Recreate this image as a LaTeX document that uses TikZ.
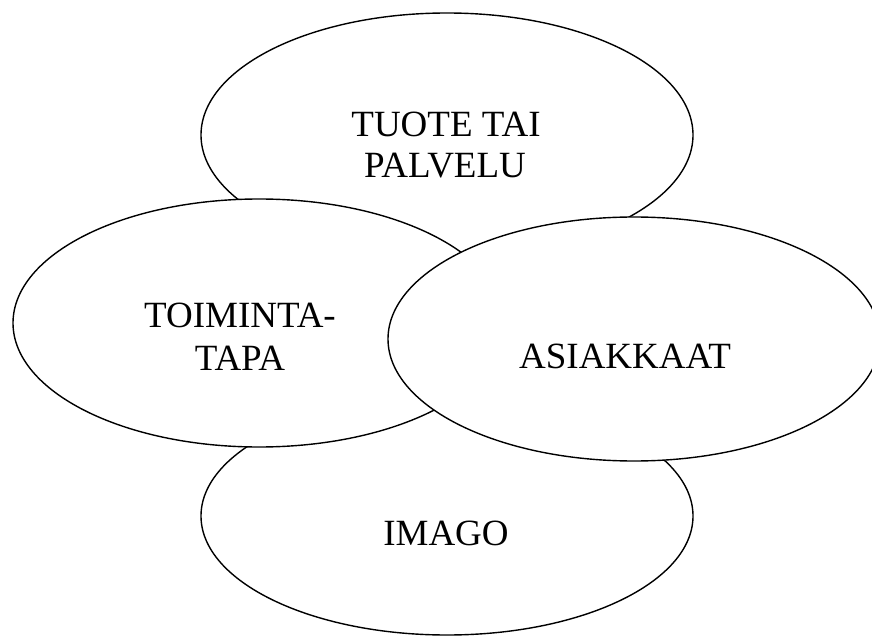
\documentclass[tikz,border=0pt]{standalone}
\usepackage{fontspec}
\setmainfont{Liberation Serif}
\usetikzlibrary{shapes.geometric}
\begin{document}
\begin{tikzpicture}[x=1pt,y=-1pt,
  area/.style={ellipse, draw=black, line width=1.4pt, fill=white,
    minimum width=492pt, minimum height=244pt, inner sep=0pt},
  word/.style={anchor=base, font=\fontsize{37}{41}\selectfont, inner sep=0pt}]
  \clip (0,0) rectangle (872,636);
  \useasboundingbox (0,0) rectangle (872,636);
  % product or service (top)
  \node[area] (tuote) at (447,135) {};
  \node[word] (tuoteA) at (446,137) {TUOTE TAI};
  \node[word] (tuoteB) at (445,178) {PALVELU};
  % image (bottom)
  \node[area, minimum height=238pt] (imago) at (447,516) {};
  \node[word] (imagoA) at (446,545) {IMAGO};
  % way of operating (left)
  \node[area, minimum height=248pt] (toiminta) at (259,323) {};
  \node[word] (toimintaA) at (240,327) {TOIMINTA-};
  \node[word] (toimintaB) at (240,370) {TAPA};
  % customers (right)
  \node[area] (asiakkaat) at (634,339) {};
  \node[word] (asiakkaatA) at (625,368) {ASIAKKAAT};
\end{tikzpicture}
\end{document}
